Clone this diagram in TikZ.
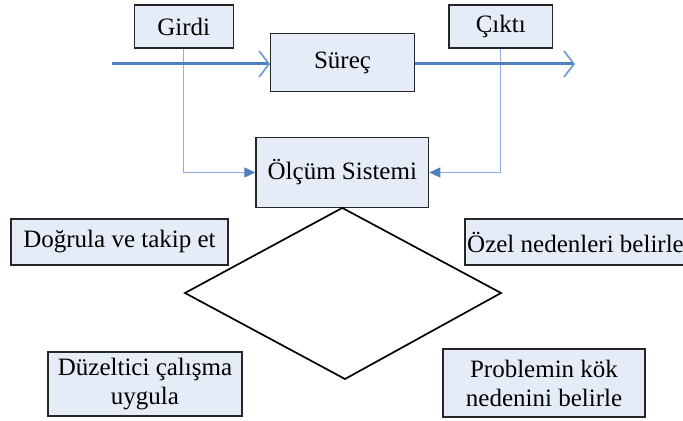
\documentclass[tikz,border=0pt]{standalone}
\usepackage{fontspec}
\setmainfont{Liberation Serif}
\usetikzlibrary{arrows.meta}
\definecolor{anamavi}{HTML}{4F81BD}
\definecolor{acikmavi}{HTML}{8FB0DC}
\definecolor{okmavi}{HTML}{6A97CF}
\definecolor{kutudolgu}{HTML}{E6ECF7}
\definecolor{kenar}{HTML}{262626}
\tikzset{
  kutu/.style={draw=kenar, line width=0.6pt, fill=kutudolgu, inner sep=0pt, align=center,
    font=\fontsize{12.5}{14.5}\selectfont},
  anaok/.style={anamavi, line width=1.5pt,
    -{Straight Barb[length=5pt, width=13pt, line width=0.8pt, color=okmavi]}},
  ince/.style={acikmavi, line width=0.6pt,
    -{Triangle[length=5.5pt, width=5pt, color=anamavi]}},
  elmas/.style={black, line width=0.85pt, line join=miter}
}
\begin{document}
\begin{tikzpicture}[x=0.5pt, y=-0.5pt]
\useasboundingbox (0,0) rectangle (683,421);
\node[kutu, minimum width=49.5pt, minimum height=21.5pt] (girdi) at (183.8,26.5) {Girdi};
\node[kutu, minimum width=71.8pt, minimum height=29.2pt] (surec) at (342.5,62.5) {Süreç};
\node[kutu, minimum width=51.8pt, minimum height=21.5pt] (cikti) at (500.8,26.5) {Çıktı};
\node[kutu, minimum width=86.4pt, minimum height=34.8pt] (olcum) at (342.3,172.5) {Ölçüm Sistemi};
\node[kutu, minimum width=108.5pt, minimum height=23pt] (dogrula) at (119.5,242) {Doğrula ve takip et};
\node[kutu, minimum width=110.5pt, minimum height=23pt] (ozel) at (575.5,242) {Özel nedenleri belirle};
\node[kutu, minimum width=97pt, minimum height=32pt] (duzeltici) at (145,384) {Düzeltici çalışma\\uygula};
\node[kutu, minimum width=101pt, minimum height=34pt] (problem) at (544,383) {Problemin kök\\nedenini belirle};
\coordinate (bas) at (112,64);
\coordinate (son) at (575,64);
\coordinate (sol) at (185,293);
\coordinate (alt) at (345,379);
\coordinate (sag) at (501,293);
\draw[ince] (girdi.south) |- (olcum.west);
\draw[ince] (cikti.south) |- (olcum.east);
\draw[anaok] (bas) -- (bas -| surec.west);
\draw[anaok] (bas -| surec.east) -- (son);
\draw[elmas] (olcum.south) -- (sol) -- (alt) -- (sag) -- cycle;
\end{tikzpicture}
\end{document}
